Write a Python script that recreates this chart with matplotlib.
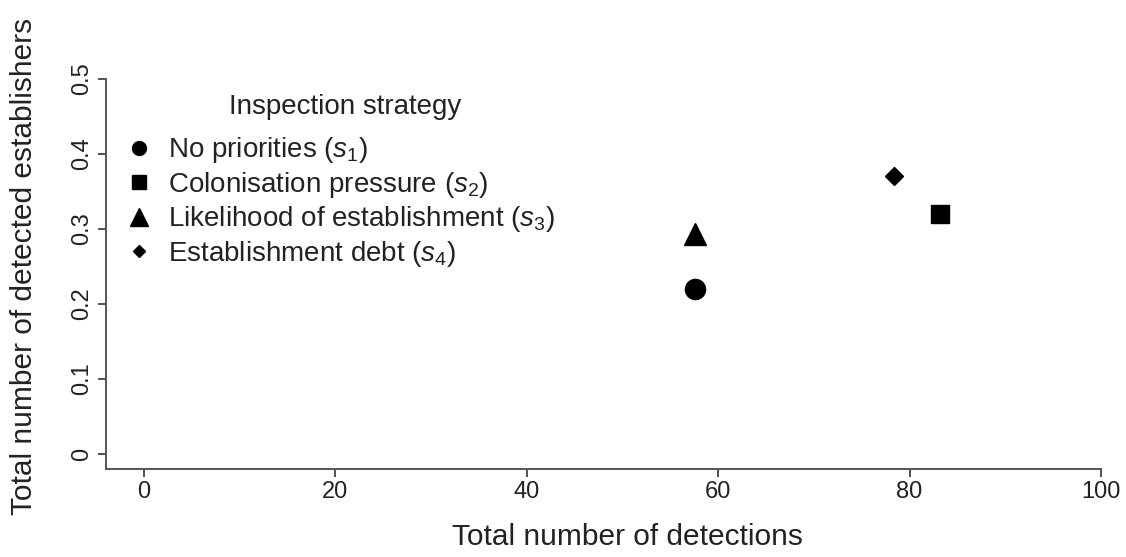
import matplotlib
matplotlib.use("Agg")
import matplotlib.pyplot as plt
from matplotlib.lines import Line2D

plt.rcParams['font.family'] = ['Liberation Sans', 'DejaVu Sans']
plt.rcParams['mathtext.fontset'] = 'custom'
plt.rcParams['mathtext.it'] = 'Liberation Sans:italic'
plt.rcParams['mathtext.rm'] = 'Liberation Sans'

# detections vs detected establishers for each inspection strategy
strategies = ['No priorities ($s_1$)', 'Colonisation pressure ($s_2$)',
              'Likelihood of establishment ($s_3$)', 'Establishment debt ($s_4$)']
detections = [57.6, 83.2, 57.6, 78.4]
establishers = [0.22, 0.32, 0.293, 0.37]
markers = ['o', 's', '^', 'D']
plot_sizes = [14.5, 13.5, 16, 9]
legend_sizes = [10, 9.5, 13.5, 6]

xticks = [0, 20, 40, 60, 80, 100]
yticks = [0, 0.1, 0.2, 0.3, 0.4, 0.5]
ytick_labels = ['0', '0.1', '0.2', '0.3', '0.4', '0.5']

fig = plt.figure(figsize=(11.26, 5.57), dpi=100)
ax = fig.add_axes([0.0939, 0.158, 0.8839, 0.7002])

for x, y, m, s in zip(detections, establishers, markers, plot_sizes):
    ax.plot(x, y, linestyle='none', marker=m, markersize=s, color='black')

ax.set_xlim(-4, 100)
ax.set_ylim(-0.02, 0.5)
ax.set_xticks(xticks)
ax.set_xticklabels([str(t) for t in xticks])
ax.set_yticks(yticks)
ax.set_yticklabels(ytick_labels, rotation=90, va='center')

for side in ['top', 'right']:
    ax.spines[side].set_visible(False)
for side in ['left', 'bottom']:
    ax.spines[side].set_color('#555555')
    ax.spines[side].set_linewidth(1.4)

ax.tick_params(axis='both', length=6, width=1.2, color='#333333',
               labelsize=17, labelcolor='#222222', pad=3)

ax.set_xlabel('Total number of detections', fontsize=21.5, color='#222222')
ax.xaxis.set_label_coords(0.524, -0.175)
ax.xaxis.label.set_verticalalignment('center')
ax.set_ylabel('Total number of detected establishers', fontsize=21.5, color='#222222')
ax.yaxis.set_label_coords(-0.082, 0.52)
ax.yaxis.label.set_verticalalignment('center')

# legend title drawn on its own so it can sit a little higher
ax.text(0.2404, 0.928, 'Inspection strategy', transform=ax.transAxes,
        ha='center', va='center', fontsize=20, color='#222222')

handles = [Line2D([], [], linestyle='none', marker=m, markersize=s, color='black')
           for m, s in zip(markers, legend_sizes)]
leg = ax.legend(handles, strategies, loc='upper left',
                bbox_to_anchor=(0.0085, 0.884), frameon=False, fontsize=20,
                handlelength=1.0, handletextpad=0.54,
                labelspacing=0.16, borderaxespad=0, borderpad=0.4)
for t in leg.get_texts():
    t.set_color('#222222')

fig.savefig('out.png', dpi=100)
